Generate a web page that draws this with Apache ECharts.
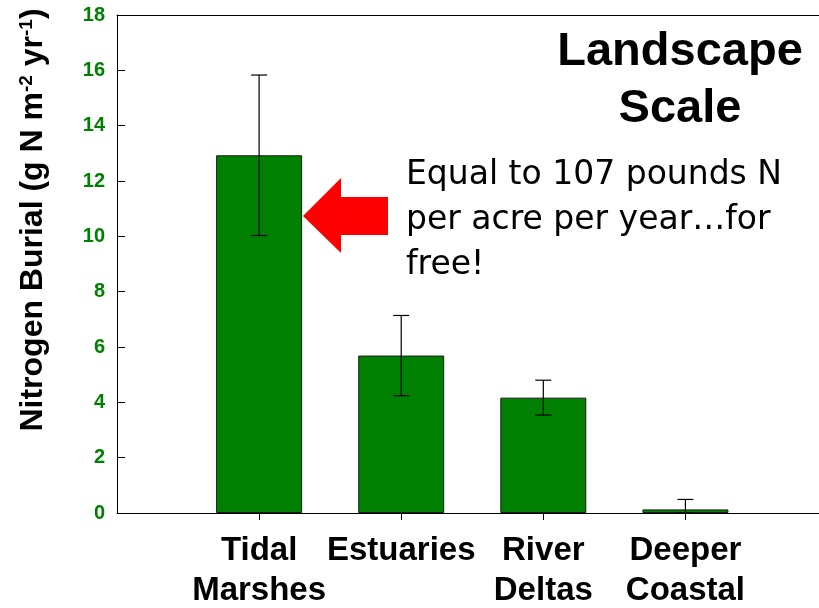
<!DOCTYPE html>
<html>
<head>
<meta charset="utf-8">
<script src="https://cdn.jsdelivr.net/npm/echarts@6/dist/echarts.min.js"></script>
<style>
  html, body { margin: 0; padding: 0; background: #fff; }
  #chart { width: 819px; height: 608px; }
</style>
</head>
<body>
<div id="chart"></div>
<script>
// values
var categories = ['Tidal\nMarshes', 'Estuaries', 'River\nDeltas', 'Deeper\nCoastal'];
var positions = [1, 2, 3, 4];
var burial = [12.93, 5.69, 4.17, 0.13];
var errors = [2.9, 1.45, 0.63, 0.36];
var yTicks = [0, 2, 4, 6, 8, 10, 12, 14, 16, 18];

var font = '"Liberation Sans", Arial, sans-serif';

var barData = positions.map(function (p, i) { return [p, burial[i]]; });
var errData = positions.map(function (p, i) {
    return [p, Math.max(0, burial[i] - errors[i]), burial[i] + errors[i]];
});

var chart = echarts.init(document.getElementById('chart'));

chart.setOption({
    animation: false,
    grid: { left: 117, right: 0, top: 15, bottom: 95, outerBoundsMode: 'none' },
    xAxis: [{
        type: 'value',
        min: 0,
        max: 4.94,
        interval: 1,
        splitLine: { show: false },
        axisLine: { lineStyle: { color: '#000', width: 1 } },
        axisTick: { customValues: positions, length: 7, lineStyle: { color: '#000' } },
        axisLabel: {
            customValues: positions,
            hideOverlap: false,
            margin: 18,
            formatter: function (v) { return categories[positions.indexOf(v)] || ''; },
            color: '#000',
            fontFamily: font,
            fontWeight: 'bold',
            fontSize: 33,
            lineHeight: 40
        }
    }, {
        type: 'value',
        position: 'top',
        min: 0,
        max: 4.94,
        splitLine: { show: false },
        axisLine: { show: true, lineStyle: { color: '#000', width: 1 } },
        axisTick: { show: false },
        axisLabel: { show: false }
    }],
    yAxis: {
        type: 'value',
        min: yTicks[0],
        max: yTicks[yTicks.length - 1],
        interval: 2,
        splitLine: { show: false },
        axisLine: { show: true, lineStyle: { color: '#000', width: 1 } },
        axisTick: { inside: true, length: 8, lineStyle: { color: '#000' } },
        axisLabel: {
            margin: 12,
            color: '#008000',
            fontFamily: font,
            fontWeight: 'bold',
            fontSize: 20
        },
        name: 'Nitrogen Burial (g N m{sup|-2} yr{sup|-1})',
        nameLocation: 'middle',
        nameGap: 68,
        nameTextStyle: {
            color: '#000',
            fontFamily: font,
            fontWeight: 'bold',
            fontSize: 32,
            padding: [0, 0, 0, 88],
            rich: {
                sup: { fontFamily: font, fontWeight: 'bold', fontSize: 19, verticalAlign: 'top', color: '#000' }
            }
        }
    },
    series: [{
        type: 'bar',
        data: barData,
        barWidth: 86,
        itemStyle: { color: '#008000', borderColor: '#1a1a1a', borderWidth: 1 }
    }, {
        type: 'custom',
        data: errData,
        z: 5,
        clip: true,
        renderItem: function (params, api) {
            var x = api.value(0);
            var lo = api.coord([x, api.value(1)]);
            var hi = api.coord([x, api.value(2)]);
            var cap = 8;
            var st = { stroke: '#000', lineWidth: 1.2 };
            return {
                type: 'group',
                children: [
                    { type: 'line', shape: { x1: hi[0], y1: hi[1], x2: lo[0], y2: lo[1] }, style: st },
                    { type: 'line', shape: { x1: hi[0] - cap, y1: hi[1], x2: hi[0] + cap, y2: hi[1] }, style: st },
                    { type: 'line', shape: { x1: lo[0] - cap, y1: lo[1], x2: lo[0] + cap, y2: lo[1] }, style: st }
                ]
            };
        }
    }],
    graphic: [{
        type: 'text',
        x: 680,
        y: 24,
        style: {
            text: 'Landscape\nScale',
            align: 'center',
            verticalAlign: 'top',
            font: 'bold 47px "Liberation Sans", Arial, sans-serif',
            lineHeight: 57,
            fill: '#000'
        }
    }, {
        type: 'text',
        left: 406,
        top: 153,
        style: {
            text: 'Equal to 107 pounds N\nper acre per year\u2026for\nfree!',
            font: '33px "Comic Sans MS", "DejaVu Sans", sans-serif',
            lineHeight: 45,
            fill: '#000'
        }
    }, {
        type: 'polygon',
        shape: { points: [[303, 216], [341, 178], [341, 197], [388, 197], [388, 235], [341, 235], [341, 253]] },
        style: { fill: '#ff0000' }
    }]
});
</script>
</body>
</html>
